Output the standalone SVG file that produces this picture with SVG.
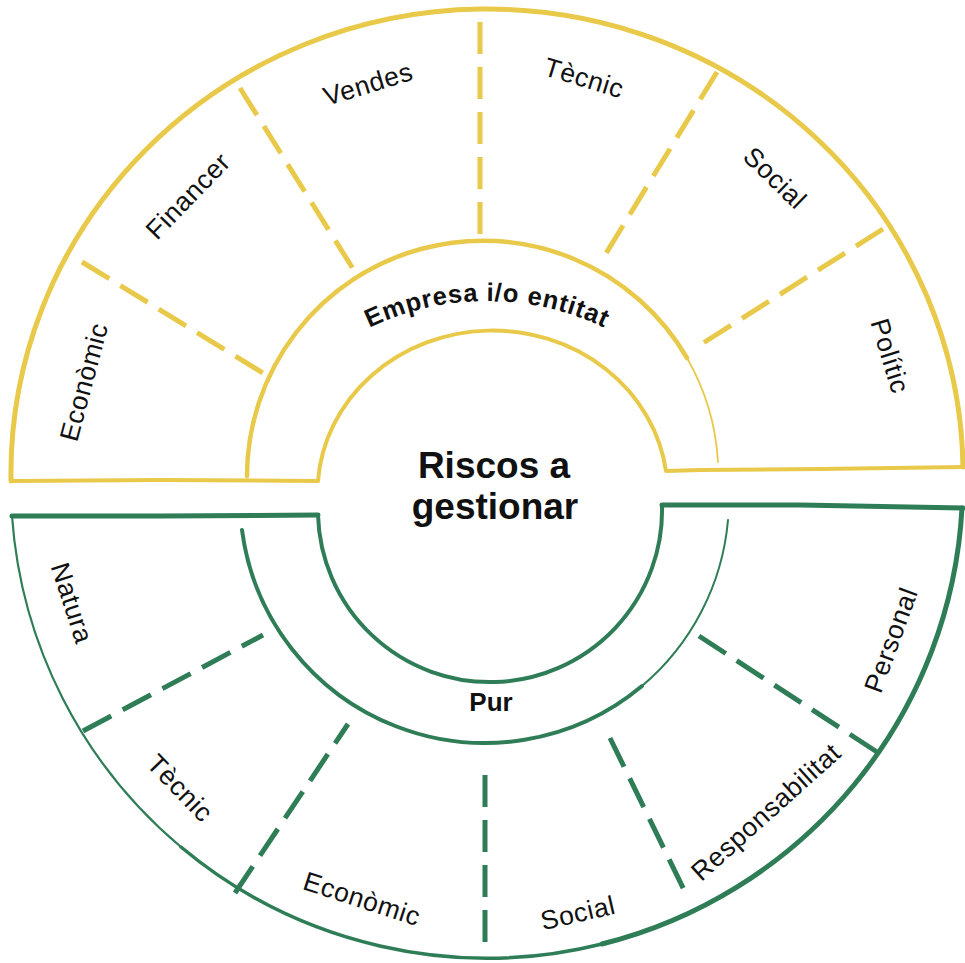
<svg xmlns="http://www.w3.org/2000/svg" width="965" height="963" viewBox="0 0 965 963">
<defs>
<style>
.y{fill:none;stroke:#E9C94A;stroke-linecap:round;stroke-linejoin:round}
.g{fill:none;stroke:#2F7D57;stroke-linecap:round;stroke-linejoin:round}
.dy{fill:none;stroke:#E9C94A;stroke-width:5;stroke-dasharray:32 13}
.dg{fill:none;stroke:#2F7D57;stroke-width:5;stroke-dasharray:32 13}
.lbl{font-family:"Liberation Sans",Arial,sans-serif;font-size:26.5px;fill:#111;text-anchor:middle;dominant-baseline:central;letter-spacing:0.6px}
.band{font-family:"Liberation Sans",Arial,sans-serif;font-weight:bold;fill:#111;text-anchor:middle}
.title{font-family:"Liberation Sans",Arial,sans-serif;font-weight:bold;font-size:37px;fill:#111;text-anchor:middle}
</style>
<path id="empArc" d="M 216,572 A 271 271 0 0 1 758,572"/>
</defs>
<rect width="965" height="963" fill="#fff"/>

<g id="band-top">
<path class="y" stroke-width="5" d="M 11,481 A 476 465 0 0 1 963,467"/>
<path class="y" stroke-width="4" d="M 963,467 L 820,469 L 700,470 L 666,471 A 175 162 0 0 0 318,481 L 160,480 L 11,481"/>
<path class="y" stroke-width="4.5" d="M 247,476 A 236 236 0 0 1 687,358"/>
<path class="y" stroke-width="1.8" d="M 687,358 A 236 236 0 0 1 718,462"/>
<text class="band" font-size="25.5" letter-spacing="0.8"><textPath href="#empArc" startOffset="50%">Empresa i/o entitat</textPath></text>
</g>

<g id="band-bottom">
<path class="g" stroke-width="5" d="M 12,516 L 160,516 L 318,515"/>
<path class="g" stroke-width="4" d="M 318,515 A 172 172 0 0 0 662,505"/>
<path class="g" stroke-width="5" d="M 662,505 L 800,505 L 963,508"/>
<path class="g" stroke-width="5" d="M 962,508 A 476 476 0 0 1 602,944"/>
<path class="g" stroke-width="3.5" d="M 602,944 A 476 476 0 0 1 181,847"/>
<path class="g" stroke-width="2.2" d="M 181,847 A 476 476 0 0 1 12,516"/>
<path class="g" stroke-width="4" d="M 242,530 A 245 245 0 0 0 642,686"/>
<path class="g" stroke-width="2" d="M 642,686 A 245 245 0 0 0 728,520"/>
<text class="band" x="491" y="711" font-size="26">Pur</text>
</g>

<g id="center">
<text class="title" x="494" y="478">Riscos a</text>
<text class="title" x="495" y="519">gestionar</text>
</g>

<g id="connectors">
<line class="dy" x1="82" y1="262" x2="263" y2="373"/>
<line class="dy" x1="240" y1="88" x2="355" y2="272"/>
<line class="dy" x1="480" y1="22" x2="480" y2="240"/>
<line class="dy" x1="717" y1="72" x2="605" y2="255"/>
<line class="dy" x1="883" y1="229" x2="700" y2="345"/>
<line class="dg" x1="83" y1="731" x2="263" y2="635"/>
<line class="dg" x1="235" y1="893" x2="348" y2="724"/>
<line class="dg" x1="485" y1="775" x2="485" y2="955"/>
<line class="dg" x1="610" y1="738" x2="688" y2="898"/>
<line class="dg" x1="699" y1="636" x2="877" y2="752"/>
</g>

<g id="top-economic"><text class="lbl" transform="translate(84,382) rotate(-75)">Econòmic</text></g>
<g id="top-financer"><text class="lbl" transform="translate(188,196) rotate(-46)">Financer</text></g>
<g id="top-vendes"><text class="lbl" transform="translate(368,84) rotate(-17)">Vendes</text></g>
<g id="top-tecnic"><text class="lbl" transform="translate(584,78) rotate(17)">Tècnic</text></g>
<g id="top-social"><text class="lbl" transform="translate(775,178) rotate(44)">Social</text></g>
<g id="top-politic"><text class="lbl" transform="translate(890,356) rotate(73)">Polític</text></g>

<g id="bot-natura"><text class="lbl" transform="translate(72,603) rotate(72)">Natura</text></g>
<g id="bot-tecnic"><text class="lbl" transform="translate(180,788) rotate(46)">Tècnic</text></g>
<g id="bot-economic"><text class="lbl" transform="translate(362,899) rotate(18)">Econòmic</text></g>
<g id="bot-social"><text class="lbl" transform="translate(578,913) rotate(-13)">Social</text></g>
<g id="bot-responsabilitat"><text class="lbl" transform="translate(766,812) rotate(-42)">Responsabilitat</text></g>
<g id="bot-personal"><text class="lbl" transform="translate(891,640) rotate(-70)">Personal</text></g>
</svg>
